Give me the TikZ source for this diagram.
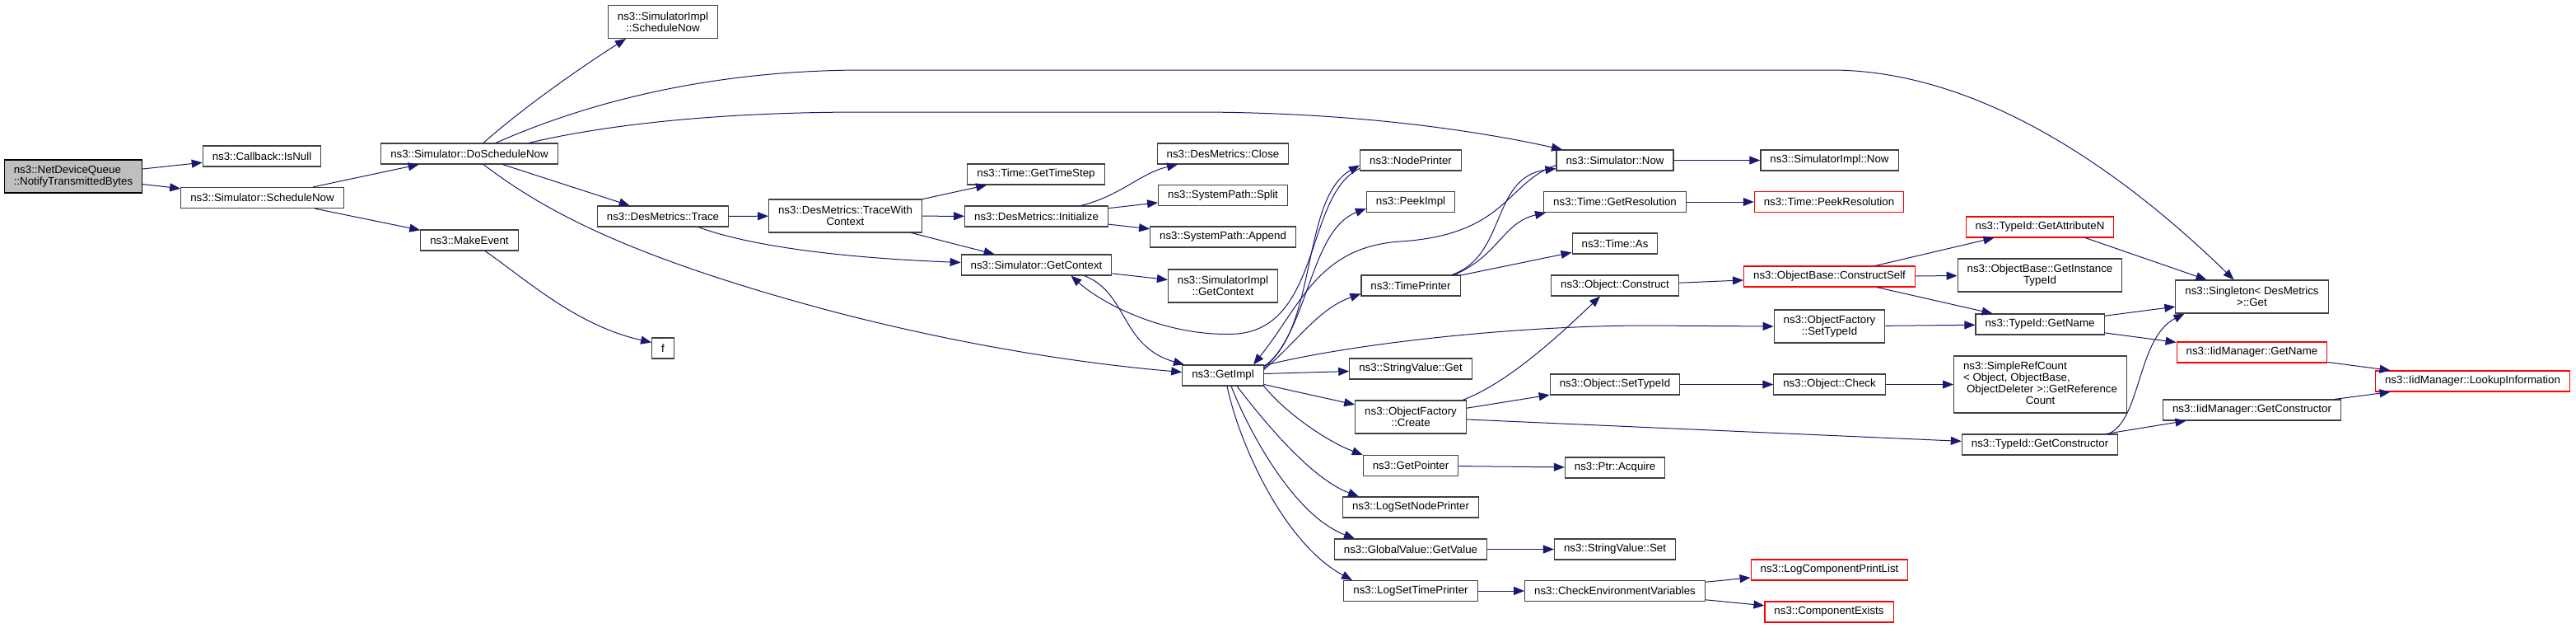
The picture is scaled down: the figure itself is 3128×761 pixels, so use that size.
\documentclass[tikz,border=0pt]{standalone}
\usepackage{fontspec}
\setmainfont{Liberation Sans}
\usetikzlibrary{arrows.meta}
\definecolor{edgeblue}{HTML}{191970}
\definecolor{boxgray}{HTML}{404040}
\definecolor{startgray}{HTML}{BFBFBF}
\tikzset{
  fn/.style={draw=boxgray, fill=white, line width=1.1pt, inner xsep=11.5pt, inner ysep=2pt,
    minimum height=25pt, align=center, font=\fontsize{13.3}{14}\selectfont},
  fnred/.style={fn, draw=red},
  fnstart/.style={fn, draw=black, fill=startgray, align=left},
  two/.style={minimum height=40pt},
  call/.style={draw=edgeblue, line width=1pt, -{Triangle[length=13pt,width=10pt]}}
}
\begin{document}
\begin{tikzpicture}[x=1pt, y=-1pt]
\useasboundingbox (0,0) rectangle (3128,761);

% first columns
\node[fnstart,two] (ntb) at (89,214) {ns3::NetDeviceQueue\\::NotifyTransmittedBytes};
\node[fn] (isnull) at (318,189.5) {ns3::Callback::IsNull};
\node[fn] (schednow) at (318.5,240) {ns3::Simulator::ScheduleNow};
\node[fn] (dosched) at (570,186.5) {ns3::Simulator::DoScheduleNow};
\node[fn] (makeevent) at (570,291.5) {ns3::MakeEvent};
\node[fn] (f) at (805,422.5) {f};
\node[fn,two] (simimplsched) at (805,26.5) {ns3::SimulatorImpl\\::ScheduleNow};
\node[fn] (trace) at (805,262.5) {ns3::DesMetrics::Trace};
\node[fn,two] (twc) at (1026.5,262) {ns3::DesMetrics::TraceWith\\Context};
\node[fn] (gettimestep) at (1258,211.5) {ns3::Time::GetTimeStep};
\node[fn] (initialize) at (1258.5,262.5) {ns3::DesMetrics::Initialize};
\node[fn] (gc) at (1258.5,321.5) {ns3::Simulator::GetContext};
\node[fn] (close) at (1485,186.5) {ns3::DesMetrics::Close};
\node[fn] (split) at (1485,237) {ns3::SystemPath::Split};
\node[fn] (append) at (1485,287.5) {ns3::SystemPath::Append};
\node[fn,two] (simimplgc) at (1485,347) {ns3::SimulatorImpl\\::GetContext};
\node[fn] (getimpl) at (1485,455.5) {ns3::GetImpl};

% callees of GetImpl
\node[fn] (nodeprinter) at (1713,194.5) {ns3::NodePrinter};
\node[fn] (peekimpl) at (1713,245) {ns3::PeekImpl};
\node[fn] (timeprinter) at (1713,346.5) {ns3::TimePrinter};
\node[fn] (svget) at (1713,447.5) {ns3::StringValue::Get};
\node[fn,two] (create) at (1713,506) {ns3::ObjectFactory\\::Create};
\node[fn] (getpointer) at (1713,565) {ns3::GetPointer};
\node[fn] (lsnp) at (1713,615.5) {ns3::LogSetNodePrinter};
\node[fn] (gv) at (1713,666.5) {ns3::GlobalValue::GetValue};
\node[fn] (lstp) at (1713,717) {ns3::LogSetTimePrinter};

\node[fn] (simnow) at (1961,194.5) {ns3::Simulator::Now};
\node[fn] (getres) at (1961,245) {ns3::Time::GetResolution};
\node[fn] (timeas) at (1961,295.5) {ns3::Time::As};
\node[fn] (construct) at (1961,346.5) {ns3::Object::Construct};
\node[fn] (objsettid) at (1961,466.5) {ns3::Object::SetTypeId};
\node[fn] (acquire) at (1961,567.5) {ns3::Ptr::Acquire};
\node[fn] (svset) at (1961,666.5) {ns3::StringValue::Set};
\node[fn] (checkenv) at (1961,717) {ns3::CheckEnvironmentVariables};

\node[fn] (simimplnow) at (2221.5,194.5) {ns3::SimulatorImpl::Now};
\node[fnred] (peekres) at (2221,245) {ns3::Time::PeekResolution};
\node[fnred] (constructself) at (2221.5,335.5) {ns3::ObjectBase::ConstructSelf};
\node[fn,two] (ofsettid) at (2221.5,396) {ns3::ObjectFactory\\::SetTypeId};
\node[fn] (check) at (2221.5,466.5) {ns3::Object::Check};
\node[fnred] (lcpl) at (2221.5,691.5) {ns3::LogComponentPrintList};
\node[fnred] (compexists) at (2221,742.5) {ns3::ComponentExists};

\node[fnred] (getattrn) at (2477,275.5) {ns3::TypeId::GetAttributeN};
\node[fn,two] (insttid) at (2477,334) {ns3::ObjectBase::GetInstance\\TypeId};
\node[fn] (getname) at (2477,393.5) {ns3::TypeId::GetName};
\node[fn,minimum height=69pt] (refcount) at (2477.5,466.5) {\begin{tabular}{@{}l@{}}ns3::SimpleRefCount\\< Object, ObjectBase,\\\hspace{4pt}ObjectDeleter >::GetReference\\\multicolumn{1}{@{}c@{}}{Count}\end{tabular}};
\node[fn] (gctor) at (2477,539.5) {ns3::TypeId::GetConstructor};

\node[fn,two] (singleton) at (2734.5,360) {ns3::Singleton< DesMetrics\\>::Get};
\node[fnred] (iidname) at (2734.5,427.5) {ns3::IidManager::GetName};
\node[fn] (iidctor) at (2734.5,497.5) {ns3::IidManager::GetConstructor};
\node[fnred] (lookup) at (3002.5,462.5) {ns3::IidManager::LookupInformation};

% straight calls
\foreach \a/\b in {ntb/isnull, ntb/schednow, schednow/dosched, schednow/makeevent,
  dosched/trace, trace/twc, twc/gettimestep, twc/initialize, twc/gc,
  initialize/split, initialize/append, gc/simimplgc, getimpl/create,
  simnow/simimplnow, getres/peekres, timeprinter/timeas,
  construct/constructself, create/objsettid, create/gctor, objsettid/check,
  check/refcount, getpointer/acquire, gv/svset, lstp/checkenv,
  checkenv/lcpl, checkenv/compexists, constructself/getattrn,
  constructself/insttid, constructself/getname, ofsettid/getname,
  getname/singleton, getname/iidname, iidname/lookup, iidctor/lookup,
  gctor/iidctor}
  \draw[call] (\a) -- (\b);

% DoScheduleNow
\draw[call] ([xshift=17pt]dosched.north) .. controls (630,135) and (700,85) .. ([xshift=-45pt]simimplsched.south);
\draw[call] ([xshift=32pt]dosched.north) .. controls (700,130) and (850,85) .. (1050,85) -- (2223,85)
  .. controls (2420,85) and (2600,230) .. ([xshift=-22pt]singleton.north);
\draw[call] ([xshift=72pt]dosched.north) .. controls (720,155) and (850,136) .. (1050,136) -- (1450,136)
  .. controls (1650,136) and (1800,160) .. ([xshift=-64pt]simnow.north);
\draw[call] ([xshift=17pt]dosched.south) .. controls (660,255) and (760,310) .. (1000,375)
  .. controls (1150,415) and (1300,440) .. ([yshift=4pt]getimpl.west);
\draw[call] ([xshift=19pt]makeevent.south) .. controls (640,340) and (700,395) .. ([yshift=7pt]f.west);

\draw[call] ([xshift=43pt]trace.south) .. controls (900,295) and (1000,312) .. ([yshift=3pt]gc.west);
\draw[call] ([xshift=54pt]initialize.north) .. controls (1360,238) and (1385,210) .. ([xshift=-55pt]close.south);
\draw[call] ([xshift=58pt]gc.south) .. controls (1370,355) and (1360,420) .. ([xshift=-47pt]getimpl.north);
\draw[call] ([yshift=-10pt]nodeprinter.west) .. controls (1585,235) and (1605,395) .. (1503,405)
  .. controls (1420,410) and (1340,370) .. ([xshift=42pt]gc.south);

% GetImpl
\draw[call] ([yshift=11pt]getimpl.east) .. controls (1600,400) and (1580,240) .. ([yshift=-6pt]nodeprinter.west);
\draw[call] ([yshift=9pt]getimpl.east) .. controls (1590,400) and (1590,280) .. ([yshift=-8pt]peekimpl.west);
\draw[call] ([yshift=7pt]getimpl.east) .. controls (1575,415) and (1600,375) .. ([yshift=-10pt]timeprinter.west);
\draw[call] ([yshift=12pt]getimpl.east) .. controls (1650,415) and (1850,395) .. (2000,395) -- (ofsettid.west);
\draw[call] ([yshift=2pt]getimpl.east) -- ([yshift=-3pt]svget.west);
\draw[call] (getimpl.south east) .. controls (1560,500) and (1610,535) .. (getpointer.north west);
\draw[call] ([xshift=17pt]getimpl.south) .. controls (1530,505) and (1590,580) .. ([xshift=-63pt]lsnp.north);
\draw[call] ([xshift=10pt]getimpl.south) .. controls (1515,520) and (1570,625) .. ([xshift=-68pt]gv.north);
\draw[call] ([xshift=5pt]getimpl.south) .. controls (1505,540) and (1560,660) .. ([xshift=-71pt]lstp.north);
\draw[call] ([yshift=-6pt]simnow.west) .. controls (1830,220) and (1830,285) .. (1700,293)
  .. controls (1600,300) and (1580,370) .. ([xshift=37pt]getimpl.north);

\draw[call] ([xshift=50pt]timeprinter.north) .. controls (1830,310) and (1810,215) .. ([yshift=-10pt]simnow.west);
\draw[call] ([xshift=53pt]timeprinter.north) .. controls (1820,310) and (1825,270) .. ([xshift=-84pt]getres.south);
\draw[call] ([xshift=63pt]create.north) .. controls (1830,465) and (1890,410) .. ([xshift=-18pt]construct.south);
\draw[call] ([xshift=55pt]getattrn.south) -- ([xshift=-55pt]singleton.north);
\draw[call] ([xshift=83pt]gctor.north) .. controls (2600,510) and (2595,410) .. ([xshift=-82pt]singleton.south);

\end{tikzpicture}
\end{document}
